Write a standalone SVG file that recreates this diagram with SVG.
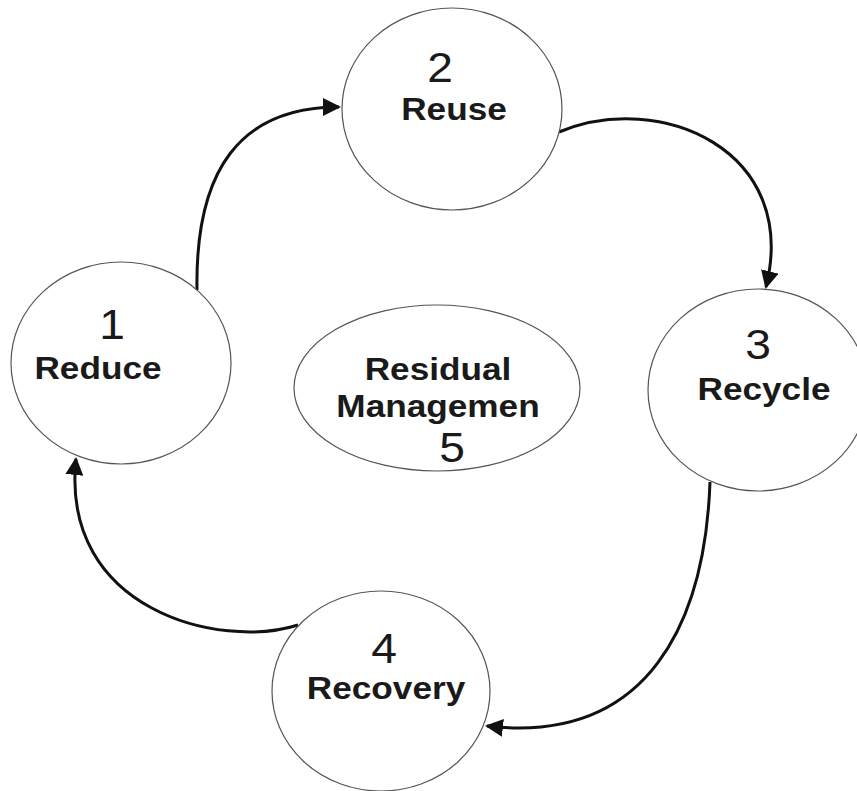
<svg xmlns="http://www.w3.org/2000/svg" width="857" height="791" viewBox="0 0 857 791">
<style>
.node{fill:#fff;stroke:#555;stroke-width:1.2}
.num{font-family:"Liberation Sans",Arial,sans-serif;font-size:42px;fill:#1a1a1a;text-anchor:middle}
.lbl{font-family:"Liberation Sans",Arial,sans-serif;font-size:32px;font-weight:bold;fill:#1a1a1a;text-anchor:middle}
.edge{fill:none;stroke:#111;stroke-width:3}
</style>
<defs>
<marker id="ah" markerUnits="userSpaceOnUse" markerWidth="20" markerHeight="18" refX="16" refY="9" orient="auto">
<path d="M0,0 L18,9 L0,18 z" fill="#111"/>
</marker>
</defs>
<rect width="857" height="791" fill="#fff"/>
<g id="connectors">
<path class="edge" d="M197,290 C195,170 240,107 339,107" marker-end="url(#ah)"/>
<path class="edge" d="M559,132 C660,90 800,150 766,287" marker-end="url(#ah)"/>
<path class="edge" d="M710,482 C705,620 650,745 487,726" marker-end="url(#ah)"/>
<path class="edge" d="M298,625 C220,650 60,610 76,459" marker-end="url(#ah)"/>
</g>
<g id="n1">
<ellipse class="node" cx="121" cy="363" rx="110" ry="101"/>
<text class="num" transform="translate(112,339) scale(1.1,1)">1</text>
<text class="lbl" transform="translate(98,379) scale(1.1,1)">Reduce</text>
</g>
<g id="n2">
<ellipse class="node" cx="452" cy="109" rx="110" ry="101"/>
<text class="num" transform="translate(440,82) scale(1.1,1)">2</text>
<text class="lbl" transform="translate(454,120) scale(1.1,1)">Reuse</text>
</g>
<g id="n3">
<ellipse class="node" cx="758" cy="390" rx="110" ry="101"/>
<text class="num" transform="translate(758,359) scale(1.1,1)">3</text>
<text class="lbl" transform="translate(764,400) scale(1.1,1)">Recycle</text>
</g>
<g id="n4">
<ellipse class="node" cx="381" cy="691" rx="109" ry="100"/>
<text class="num" transform="translate(384,663) scale(1.1,1)">4</text>
<text class="lbl" transform="translate(386,699) scale(1.1,1)">Recovery</text>
</g>
<g id="n5">
<ellipse class="node" cx="437" cy="388" rx="143" ry="83"/>
<text class="lbl" transform="translate(438,380) scale(1.1,1)">Residual</text>
<text class="lbl" transform="translate(438,417) scale(1.1,1)">Managemen</text>
<text class="num" transform="translate(452,462) scale(1.1,1)">5</text>
</g>
</svg>
